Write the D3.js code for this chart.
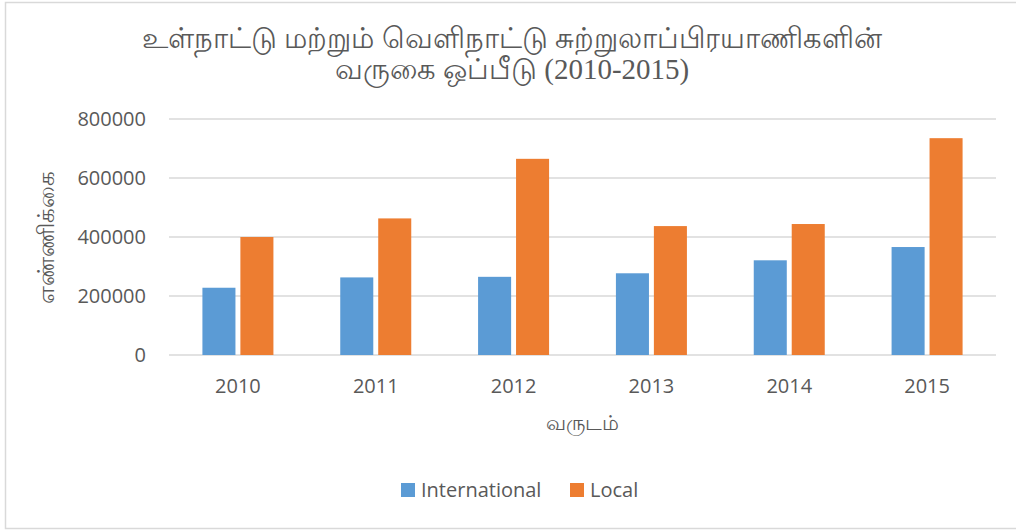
<!DOCTYPE html>
<html>
<head>
<meta charset="utf-8">
<script src="https://cdn.jsdelivr.net/npm/d3@7"></script>
<style>
  body { margin: 0; background: #fff; }
  text { font-family: "Open Sans", "Liberation Sans", sans-serif; }
  .serif { font-family: "Liberation Serif", "DejaVu Serif", serif; }
</style>
</head>
<body>
<div id="chart"></div>
<script>
const years = ["2010", "2011", "2012", "2013", "2014", "2015"];
const international = [228000, 263000, 265000, 277000, 321000, 366000];
const local = [400000, 463000, 665000, 437000, 444000, 735000];
const seriesNames = ["International", "Local"];
const yTicks = [0, 200000, 400000, 600000, 800000];
const titleLines = ["உள்நாட்டு மற்றும் வெளிநாட்டு சுற்றுலாப்பிரயாணிகளின்", "வருகை ஒப்பீடு (2010-2015)"];
const yTitle = "எண்ணிக்கை";
const xTitle = "வருடம்";

const width = 1016, height = 532;
const colors = ["#5b9bd5", "#ed7d31"];
const plot = {left: 169, right: 996, top: 119, bottom: 355};

const svg = d3.select("#chart").append("svg")
    .attr("width", width).attr("height", height);

// chart frame
svg.append("rect")
    .attr("x", 5.5).attr("y", 2.5)
    .attr("width", 1030).attr("height", 526)
    .attr("fill", "#fff").attr("stroke", "#d9d9d9").attr("stroke-width", 1.5);

const x = d3.scaleBand().domain(years).range([plot.left, plot.right]);
const y = d3.scaleLinear().domain([0, 800000]).range([plot.bottom, plot.top]);

const x1 = d3.scaleBand().domain(seriesNames)
    .range([0, 71]).paddingInner(0.13);

// gridlines
svg.append("g")
    .selectAll("line")
    .data(yTicks)
    .join("line")
    .attr("x1", plot.left).attr("x2", plot.right)
    .attr("y1", d => y(d)).attr("y2", d => y(d))
    .attr("stroke", "#d9d9d9").attr("stroke-width", 1.5);

// y tick labels
svg.append("g")
    .selectAll("text")
    .data(yTicks)
    .join("text")
    .attr("x", 146).attr("y", d => y(d))
    .attr("dy", "0.35em")
    .attr("text-anchor", "end")
    .attr("font-size", 20).attr("fill", "#595959")
    .text(d => d);

// x tick labels
svg.append("g")
    .selectAll("text")
    .data(years)
    .join("text")
    .attr("x", d => x(d) + x.bandwidth() / 2).attr("y", 386)
    .attr("dy", "0.35em")
    .attr("text-anchor", "middle")
    .attr("font-size", 20).attr("fill", "#595959")
    .text(d => d);

// bars
const rows = years.map((yr, i) => ({year: yr, values: [international[i], local[i]]}));
const groups = svg.append("g")
    .selectAll("g")
    .data(rows)
    .join("g")
    .attr("transform", d => `translate(${x(d.year) + (x.bandwidth() - 71) / 2},0)`);

groups.selectAll("rect")
    .data(d => d.values.map((v, j) => ({name: seriesNames[j], value: v, j})))
    .join("rect")
    .attr("x", d => x1(d.name))
    .attr("width", x1.bandwidth())
    .attr("y", d => y(d.value))
    .attr("height", d => y(0) - y(d.value))
    .attr("fill", d => colors[d.j]);

// titles
svg.append("text")
    .attr("class", "serif")
    .attr("x", 512).attr("y", 48)
    .attr("dy", "0.35em")
    .attr("text-anchor", "middle")
    .attr("font-size", 29).attr("fill", "#595959")
    .selectAll("tspan")
    .data(titleLines)
    .join("tspan")
    .attr("x", 512)
    .attr("dy", (d, i) => i === 0 ? 0 : 31)
    .text(d => d);

svg.append("text")
    .attr("class", "serif")
    .attr("transform", "translate(46,237) rotate(-90)")
    .attr("text-anchor", "middle")
    .attr("dy", "0.35em")
    .attr("font-size", 23).attr("fill", "#595959")
    .text(yTitle);

svg.append("text")
    .attr("class", "serif")
    .attr("x", 582).attr("y", 423)
    .attr("dy", "0.35em")
    .attr("text-anchor", "middle")
    .attr("font-size", 21).attr("fill", "#595959")
    .text(xTitle);

// legend
const legendX = [401, 570];
const legend = svg.append("g")
    .selectAll("g")
    .data(seriesNames)
    .join("g")
    .attr("transform", (d, i) => `translate(${legendX[i]},490)`);

legend.append("rect")
    .attr("x", 0).attr("y", -7)
    .attr("width", 14).attr("height", 14)
    .attr("fill", (d, i) => colors[i]);

legend.append("text")
    .attr("x", 20).attr("dy", "0.35em")
    .attr("font-size", 20).attr("fill", "#595959")
    .text(d => d);
</script>
</body>
</html>
